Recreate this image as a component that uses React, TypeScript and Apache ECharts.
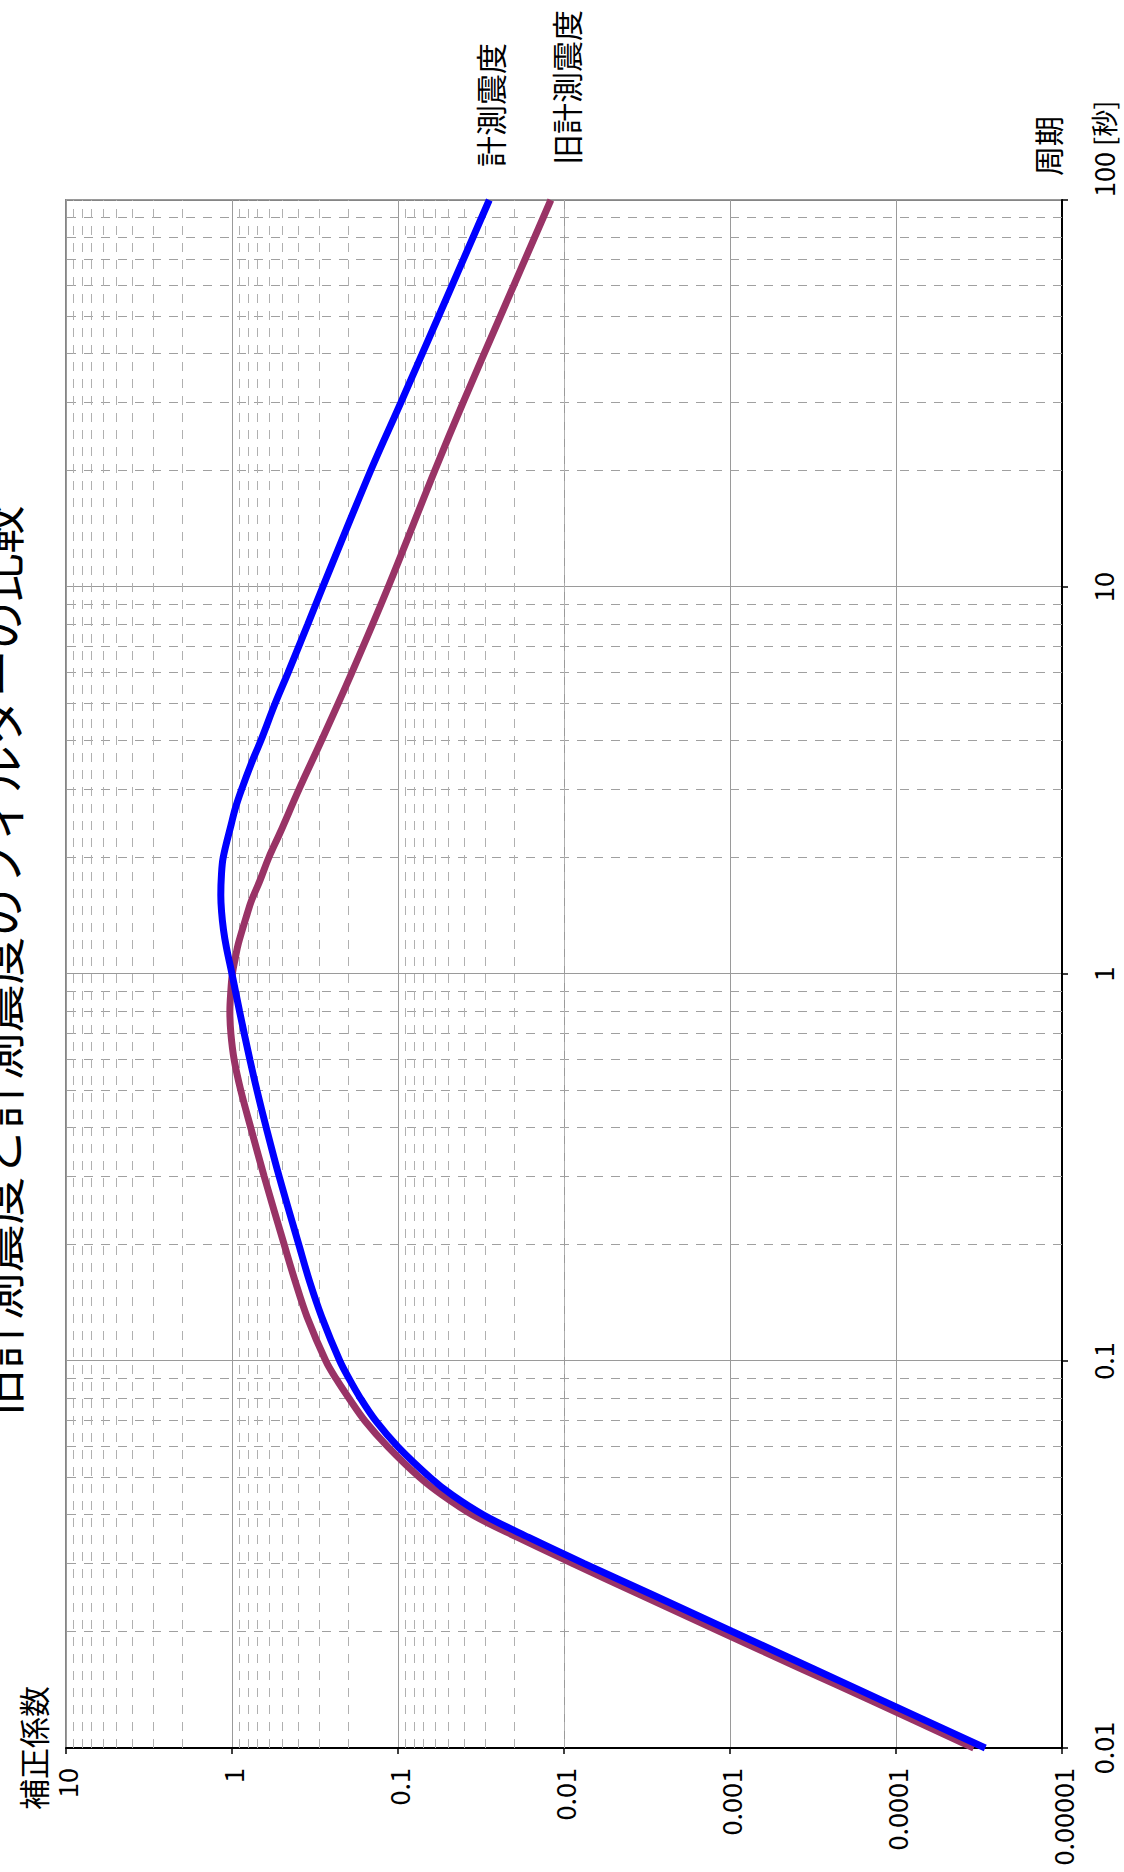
import React, { useEffect, useRef } from "react";
import * as echarts from "echarts";

// ---- data ----
const periodsNew = [0.01, 0.0132, 0.016, 0.02, 0.025, 0.03, 0.035, 0.04, 0.045, 0.05, 0.06, 0.07, 0.08, 0.09, 0.1, 0.13, 0.16, 0.2, 0.3, 0.4, 0.5, 0.6, 0.8, 1.0, 1.17, 1.3, 1.45, 1.6, 1.8, 2, 2.44, 2.7, 3, 3.5, 4, 5, 6, 8, 10, 20, 30, 50, 100];
const coefNew = [2.9e-5, 1.18e-4, 3.13e-4, 9.7e-4, 3.0e-3, 7.6e-3, 0.0163, 0.0305, 0.047, 0.064, 0.1, 0.136, 0.168, 0.197, 0.224, 0.288, 0.34, 0.396, 0.52, 0.621, 0.707, 0.78, 0.9, 1.0, 1.08, 1.125, 1.156, 1.168, 1.158, 1.13, 1.01, 0.95, 0.875, 0.765, 0.672, 0.55, 0.46, 0.35, 0.284, 0.146, 0.096, 0.057, 0.0282];

const periodsOld = [0.01, 0.0132, 0.016, 0.02, 0.025, 0.03, 0.035, 0.04, 0.045, 0.05, 0.06, 0.07, 0.08, 0.09, 0.1, 0.13, 0.16, 0.2, 0.3, 0.4, 0.5, 0.6, 0.7, 0.8, 0.9, 1.0, 1.1, 1.2, 1.43, 1.55, 1.74, 2, 2.31, 3, 4, 6, 10, 20, 30, 50, 100];
const coefOld = [3.4e-5, 1.38e-4, 3.7e-4, 1.15e-3, 3.55e-3, 8.9e-3, 0.019, 0.0355, 0.054, 0.074, 0.115, 0.158, 0.197, 0.236, 0.272, 0.353, 0.415, 0.485, 0.64, 0.77, 0.885, 0.97, 1.015, 1.03, 1.017, 0.995, 0.955, 0.915, 0.81, 0.762, 0.68, 0.6, 0.515, 0.395, 0.29, 0.19, 0.1146, 0.06, 0.0405, 0.0242, 0.012];

const periodTicks = [0.01, 0.1, 1, 10, 100];
const periodLabels = ["0.01", "0.1", "1", "10", ""];
const coefTicks = [0.00001, 0.0001, 0.001, 0.01, 0.1, 1, 10];
const coefLabels = ["0.00001", "0.0001", "0.001", "0.01", "0.1", "1", "10"];
const minorSteps = [2, 3, 4, 5, 6, 7, 8, 9];

const titleText = "旧計測震度と計測震度のフィルターの比較";
const seriesNewName = "計測震度";
const seriesOldName = "旧計測震度";
const xName = "周期";
const yName = "補正係数";
const lastPeriodLabel = "100 [秒]";

const FONT = '"Noto Sans CJK JP", "Noto Sans", sans-serif';
const W = 1872;
const H = 1124;

function labelFor(ticks: number[], labels: string[], v: number) {
  const k = Math.round(Math.log10(v));
  const i = ticks.findIndex((t) => Math.round(Math.log10(t)) === k);
  return i >= 0 ? labels[i] : "";
}

export default function App() {
  const ref = useRef<HTMLDivElement>(null);

  useEffect(() => {
    if (!ref.current) return;
    const chart = echarts.init(ref.current, undefined, { renderer: "svg", width: W, height: H });

    const periodMinor: number[] = [];
    periodTicks.slice(0, -1).forEach((d) => minorSteps.forEach((m) => periodMinor.push(d * m)));
    const coefMinor: number[] = [];
    coefTicks.slice(0, -1).forEach((d) => minorSteps.forEach((m) => coefMinor.push(d * m)));

    const minorLines = [
      ...periodMinor.map((v) => ({ xAxis: v, lineStyle: { color: "#a0a0a0", width: 1, type: [9, 8] } })),
      ...coefMinor.map((v) => ({ yAxis: v, lineStyle: { color: "#b0b0b0", width: 1, type: [9, 8] } })),
    ];

    const option: any = {
      animation: false,
      backgroundColor: "#ffffff",
      textStyle: { fontFamily: FONT },
      grid: { left: 124, right: 200, top: 66, bottom: 62, show: true, borderColor: "#858585", borderWidth: 2, containLabel: false },
      xAxis: {
        type: "log",
        logBase: 10,
        min: 0.01,
        max: 100,
        splitNumber: 4,
        name: xName,
        nameLocation: "end",
        nameGap: 24,
        nameTextStyle: { fontSize: 30, color: "#000", fontFamily: FONT, align: "left", verticalAlign: "bottom" },
        axisLine: { show: true, onZero: false, lineStyle: { color: "#000", width: 2 } },
        axisTick: { show: true, inside: false, length: 6, lineStyle: { color: "#000", width: 1.5 } },
        axisLabel: {
          margin: 27,
          fontSize: 27,
          color: "#000",
          fontFamily: FONT,
          showMaxLabel: true,
          showMinLabel: true,
          formatter: (v: number) => labelFor(periodTicks, periodLabels, v),
        },
        splitLine: { show: true, lineStyle: { color: "#9a9a9a", width: 1 } },
      },
      yAxis: {
        type: "log",
        logBase: 10,
        min: 0.00001,
        max: 10,
        splitNumber: 6,
        name: yName,
        nameLocation: "end",
        nameGap: 18,
        nameTextStyle: { fontSize: 31, color: "#000", fontFamily: FONT },
        axisLine: { show: true, onZero: false, lineStyle: { color: "#000", width: 2 } },
        axisTick: { show: true, inside: false, length: 6, lineStyle: { color: "#000", width: 1.5 } },
        axisLabel: {
          margin: 20,
          fontSize: 27,
          color: "#000",
          fontFamily: FONT,
          showMaxLabel: true,
          showMinLabel: true,
          formatter: (v: number) => labelFor(coefTicks, coefLabels, v),
        },
        splitLine: { show: true, lineStyle: { color: "#9a9a9a", width: 1 } },
      },
      series: [
        {
          name: "minor-grid",
          type: "line",
          data: [],
          silent: true,
          z: 1,
          markLine: {
            silent: true,
            symbol: ["none", "none"],
            label: { show: false },
            emphasis: { disabled: true },
            animation: false,
            data: minorLines,
          },
        },
        {
          name: seriesOldName,
          type: "line",
          data: periodsOld.map((t, i) => [t, coefOld[i]]),
          showSymbol: false,
          symbol: "none",
          smooth: 0.35,
          z: 10,
          lineStyle: { color: "#993366", width: 7 },
          itemStyle: { color: "#993366" },
        },
        {
          name: seriesNewName,
          type: "line",
          data: periodsNew.map((t, i) => [t, coefNew[i]]),
          showSymbol: false,
          symbol: "none",
          smooth: 0.35,
          z: 11,
          lineStyle: { color: "#0000ff", width: 7 },
          itemStyle: { color: "#0000ff" },
        },
      ],
      graphic: [
        {
          type: "text",
          x: 911,
          y: -2,
          style: { text: titleText, fontSize: 48, fill: "#000", fontFamily: FONT, align: "center", verticalAlign: "middle" },
        },
        {
          type: "text",
          x: 1705,
          y: 489,
          style: { text: seriesNewName, fontSize: 31, fill: "#000", fontFamily: FONT, align: "left", verticalAlign: "middle" },
        },
        {
          type: "text",
          x: 1707,
          y: 565,
          style: { text: seriesOldName, fontSize: 31, fill: "#000", fontFamily: FONT, align: "left", verticalAlign: "middle" },
        },
        {
          type: "text",
          x: 1675,
          y: 1103,
          style: { text: lastPeriodLabel, fontSize: 27, fill: "#000", fontFamily: FONT, align: "left", verticalAlign: "middle" },
        },
      ],
    };

    chart.setOption(option);
    return () => chart.dispose();
  }, []);

  return (
    <div style={{ position: "fixed", left: 0, top: 0, width: 1124, height: 1872, overflow: "hidden", background: "#fff" }}>
      <div
        ref={ref}
        style={{
          position: "absolute",
          left: 0,
          top: 0,
          width: W,
          height: H,
          transformOrigin: "0 0",
          transform: `translate(0px, ${W}px) rotate(-90deg)`,
        }}
      />
    </div>
  );
}
